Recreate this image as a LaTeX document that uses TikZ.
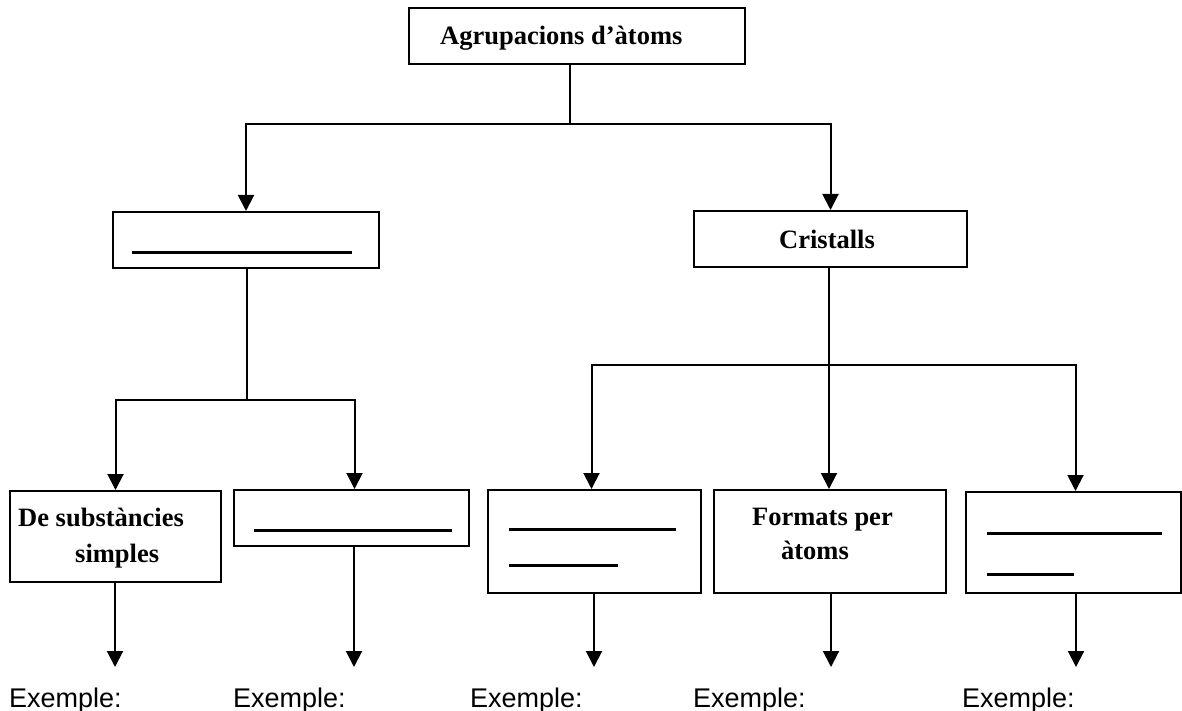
\documentclass[tikz,border=0pt]{standalone}
\usepackage{fontspec}
\setmainfont{Liberation Serif}
\newfontfamily\exfont{Liberation Sans}
\usetikzlibrary{arrows.meta,calc}
\begin{document}
\begin{tikzpicture}[x=1pt,y=-1pt,
 box/.style={draw,line width=2pt,inner sep=0pt,anchor=north west},
 conn/.style={line width=2pt},
 arr/.style={line width=2pt,-{Triangle[width=16pt,length=16pt]}},
 blank/.style={line width=3pt},
 lbl/.style={font=\fontsize{26.5}{30}\selectfont\bfseries,inner sep=0pt,anchor=base west},
 ex/.style={font=\exfont\fontsize{27}{32}\selectfont,inner sep=0pt,anchor=base west}]
\useasboundingbox (0,0) rectangle (1182,711);
% boxes
\node[box,minimum width=336pt,minimum height=56pt] (top) at (408,7) {};
\node[box,minimum width=266pt,minimum height=56pt] (lb) at (112,211) {};
\node[box,minimum width=273pt,minimum height=56pt] (cr) at (693,210) {};
\node[box,minimum width=211pt,minimum height=91pt] (b1) at (9,490) {};
\node[box,minimum width=235pt,minimum height=56pt] (b2) at (233,489) {};
\node[box,minimum width=213pt,minimum height=103pt] (b3) at (487,489) {};
\node[box,minimum width=232pt,minimum height=103pt] (b4) at (713,489) {};
\node[box,minimum width=215pt,minimum height=101pt] (b5) at (965,491) {};
% texts
\node[lbl] (t0) at (440,45) {Agrupacions d’àtoms};
\node[lbl] (t1) at (779,248) {Cristalls};
\node[lbl] (t2a) at (18,526) {De substàncies};
\node[lbl] (t2b) at (75,562) {simples};
\node[lbl] (t4a) at (752,525) {Formats per};
\node[lbl,anchor=base] (t4b) at (815,559) {àtoms};
% blanks
\draw[blank] (132,252) -- (352,252);
\draw[blank] (254,530) -- (452,530);
\draw[blank] (509,529) -- (676,529);
\draw[blank] (509,565) -- (618,565);
\draw[blank] (987,533) -- (1162,533);
\draw[blank] (987,574) -- (1074,574);
% connectors
\coordinate (j1) at (570,124);
\draw[conn] (top.south -| j1) -- (j1);
\draw[arr] (j1) -| (lb.north);
\draw[arr] (j1) -| (cr.north);
\coordinate (j2) at (247,400);
\draw[conn] (lb.south -| j2) -- (j2);
\draw[arr] (j2) -| (b1.north);
\draw[arr] (j2) -| ([xshift=3pt]b2.north);
\coordinate (j3) at (829,365);
\draw[arr] (cr.south -| j3) -- (b4.north -| j3);
\draw[arr] (j3) -| ([xshift=-3pt]b3.north);
\draw[arr] (j3) -| ([xshift=2pt]b5.north);
% bottom arrows
\coordinate (e1) at (115,667);
\coordinate (e2) at (354,667);
\coordinate (e3) at (594,667);
\coordinate (e4) at (831,667);
\coordinate (e5) at (1076,667);
\draw[arr] (b1.south -| e1) -- (e1);
\draw[arr] (b2.south -| e2) -- (e2);
\draw[arr] (b3.south -| e3) -- (e3);
\draw[arr] (b4.south -| e4) -- (e4);
\draw[arr] (b5.south -| e5) -- (e5);
% examples
\node[ex] (x1) at (9,707) {Exemple:};
\node[ex] (x2) at (233,707) {Exemple:};
\node[ex] (x3) at (470,707) {Exemple:};
\node[ex] (x4) at (693,707) {Exemple:};
\node[ex] (x5) at (962,707) {Exemple:};
\end{tikzpicture}
\end{document}
